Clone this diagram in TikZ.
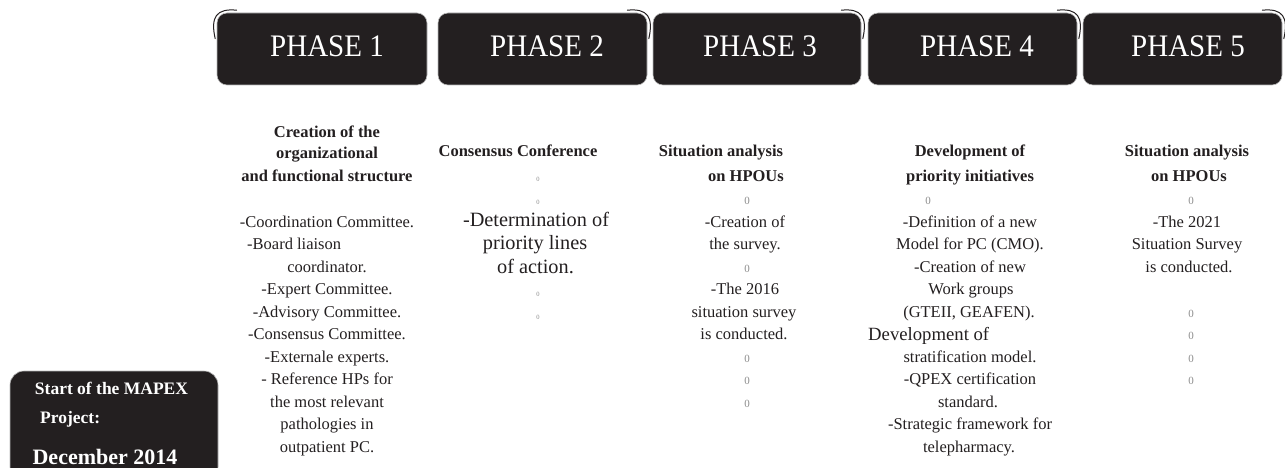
\documentclass[tikz,border=0pt]{standalone}
\usepackage{fontspec}
\setmainfont{Liberation Serif}
\definecolor{ink}{HTML}{231F20}
\definecolor{zerogray}{HTML}{8A8A8A}
\newcommand{\fs}[1]{\fontsize{#1}{#1}\selectfont}

\begin{document}
\begin{tikzpicture}[x=1pt,y=-1pt,
  phasebox/.style={fill=ink, draw=gray!55, line width=0.6pt, rounded corners=10pt,
                   minimum height=72pt, inner sep=0pt},
  phaselabel/.style={anchor=base, inner sep=0pt, text=white, font=\fs{29}},
  flourish/.style={draw=ink, line width=1pt, line cap=round},
  head/.style={anchor=base, inner sep=0pt, text=ink, font=\fs{16.5}\bfseries},
  item/.style={anchor=base, inner sep=0pt, text=ink, font=\fs{16.5}},
  bigitem/.style={anchor=base, inner sep=0pt, text=ink, font=\fs{20.3}},
  zeromark/.style={anchor=base, inner sep=0pt, text=zerogray, font=\fs{11}},
  tinyzero/.style={anchor=base, inner sep=0pt, text=zerogray, font=\fs{6.5}},
  startbox/.style={fill=ink, draw=gray!55, line width=0.6pt, rounded corners=14pt, inner sep=0pt},
  startlabel/.style={anchor=base, inner sep=0pt, text=white, font=\fs{17.5}\bfseries},
]
\useasboundingbox (0,0) rectangle (1285,468);

% phase headers
\node[phasebox, minimum width=210pt] (p1) at (322,49) {};
\node[phasebox, minimum width=209pt] (p2) at (542.5,49) {};
\node[phasebox, minimum width=208pt] (p3) at (757,49) {};
\node[phasebox, minimum width=209pt] (p4) at (972.5,49) {};
\node[phasebox, minimum width=199pt] (p5) at (1182.5,49) {};

\node[phaselabel] (p1t) at (327,57) {\scalebox{1}[1.08]{PHASE 1}};
\node[phaselabel] (p2t) at (547,57) {\scalebox{1}[1.08]{PHASE 2}};
\node[phaselabel] (p3t) at (760,57) {\scalebox{1}[1.08]{PHASE 3}};
\node[phaselabel] (p4t) at (977,57) {\scalebox{1}[1.08]{PHASE 4}};
\node[phaselabel] (p5t) at (1188,57) {\scalebox{1}[1.08]{PHASE 5}};

% curled highlights on the header corners
\newcommand{\curl}{(-1.5,26) .. controls (-6.5,4) and (0,-4.5) .. (20,-2.5)}
\draw[flourish, shift={(p1.north west)}] \curl;
\draw[flourish, shift={(p2.north east)}, xscale=-1] \curl;
\draw[flourish, shift={(p3.north east)}, xscale=-1] \curl;
\draw[flourish, shift={(p4.north east)}, xscale=-1] \curl;
\draw[flourish, shift={(p5.north east)}, xscale=-1] \curl;

% column 1
\node[head] (c1h1) at (327,138) {Creation of the};
\node[head] (c1h2) at (327,158) {organizational};
\node[head] (c1h3) at (327,181) {and functional structure};
\node[item] (c1i1) at (327,227) {-Coordination Committee.};
\node[item, anchor=base west] (c1i2) at (247,249.5) {-Board liaison};
\node[item] (c1i3) at (327,272) {coordinator.};
\node[item] (c1i4) at (327,294.5) {-Expert Committee.};
\node[item] (c1i5) at (327,317) {-Advisory Committee.};
\node[item] (c1i6) at (327,339.5) {-Consensus Committee.};
\node[item] (c1i7) at (327,362) {-Externale experts.};
\node[item] (c1i8) at (327,384.5) {- Reference HPs for};
\node[item] (c1i9) at (327,407) {the most relevant};
\node[item] (c1i10) at (327,429.5) {pathologies in};
\node[item] (c1i11) at (327,452) {outpatient PC.};

% column 2
\node[head] (c2h) at (518,157) {Consensus Conference};
\node[tinyzero] (c2z1) at (538,181) {0};
\node[tinyzero] (c2z2) at (538,204) {0};
\node[bigitem] (c2i1) at (536,226) {-Determination of};
\node[bigitem] (c2i2) at (535,249.5) {priority lines};
\node[bigitem] (c2i3) at (535.5,273) {of action.};
\node[tinyzero] (c2z3) at (538,296) {0};
\node[tinyzero] (c2z4) at (538,319) {0};

% column 3
\node[head] (c3h1) at (721,157) {Situation analysis};
\node[head, anchor=base east] (c3h2) at (784,181) {on HPOUs};
\node[zeromark] (c3z1) at (747,204.5) {0};
\node[item] (c3i1) at (745,227) {-Creation of};
\node[item] (c3i2) at (745,249.5) {the survey.};
\node[zeromark] (c3z2) at (747,272) {0};
\node[item] (c3i3) at (745,294.5) {-The 2016};
\node[item] (c3i4) at (744,317) {situation survey};
\node[item] (c3i5) at (744,339.5) {is conducted.};
\node[zeromark] (c3z3) at (747,362) {0};
\node[zeromark] (c3z4) at (747,384.5) {0};
\node[zeromark] (c3z5) at (747,407) {0};

% column 4
\node[head] (c4h1) at (970,157) {Development of};
\node[head] (c4h2) at (970,181) {priority initiatives};
\node[zeromark] (c4z1) at (928,204.5) {0};
\node[item] (c4i1) at (970,227) {-Definition of a new};
\node[item] (c4i2) at (970,249.5) {Model for PC (CMO).};
\node[item] (c4i3) at (970,272) {-Creation of new};
\node[item] (c4i4) at (971,294.5) {Work groups};
\node[item] (c4i5) at (969,317) {(GTEII, GEAFEN).};
\node[item, font=\fs{18.7}, anchor=base west] (c4i6) at (868,340) {Development of};
\node[item] (c4i7) at (970,362) {stratification model.};
\node[item] (c4i8) at (970,384.5) {-QPEX certification};
\node[item] (c4i9) at (968,407) {standard.};
\node[item] (c4i10) at (970,429.5) {-Strategic framework for};
\node[item] (c4i11) at (969,452) {telepharmacy.};

% column 5
\node[head] (c5h1) at (1187,157) {Situation analysis};
\node[head] (c5h2) at (1189,181) {on HPOUs};
\node[zeromark] (c5z1) at (1191,204.5) {0};
\node[item] (c5i1) at (1187,227) {-The 2021};
\node[item] (c5i2) at (1187,249.5) {Situation Survey};
\node[item] (c5i3) at (1189,272) {is conducted.};
\node[zeromark] (c5z2) at (1191,317) {0};
\node[zeromark] (c5z3) at (1191,339.5) {0};
\node[zeromark] (c5z4) at (1191,362) {0};
\node[zeromark] (c5z5) at (1191,384.5) {0};

% project start badge
\node[startbox, minimum width=208pt, minimum height=110pt] (start) at (114,426) {};
\node[startlabel] (s1) at (111.5,394) {Start of the MAPEX};
\node[startlabel, anchor=base west] (s2) at (40,423) {Project:};
\node[startlabel, font=\fs{22}\bfseries] (s3) at (105,464) {December 2014};
\end{tikzpicture}
\end{document}
